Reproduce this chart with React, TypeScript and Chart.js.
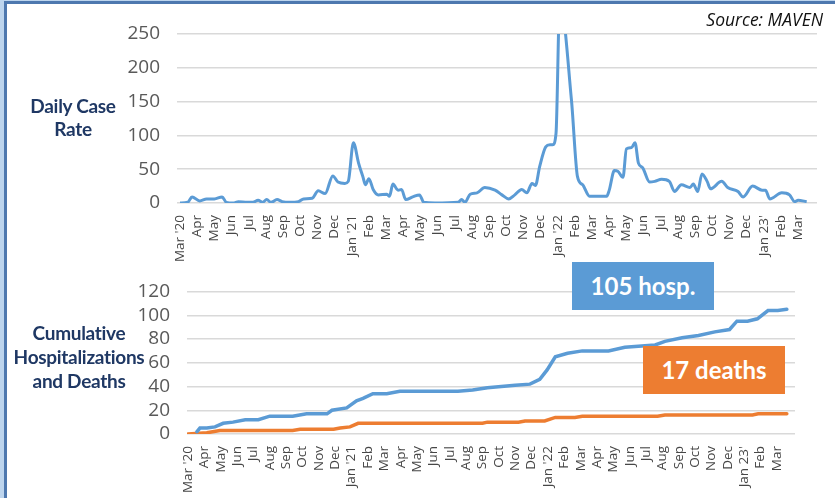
import React, { useEffect, useRef } from "react";
import { Chart, registerables } from "chart.js";

Chart.register(...registerables);

// Month tick labels (index 0 = Mar '20, 36 = Mar '23)
const monthLabels = [
  "Mar '20", "Apr", "May", "Jun", "Jul", "Aug", "Sep", "Oct", "Nov", "Dec",
  "Jan '21", "Feb", "Mar", "Apr", "May", "Jun", "Jul", "Aug", "Sep", "Oct", "Nov", "Dec",
  "Jan '22", "Feb", "Mar", "Apr", "May", "Jun", "Jul", "Aug", "Sep", "Oct", "Nov", "Dec",
  "Jan 23'", "Feb", "Mar",
];

// Y tick values
const caseTicks = [0, 50, 100, 150, 200, 250];
const cumTicks = [0, 20, 40, 60, 80, 100, 120];

// Daily case rate (x in months since Mar '20)
const caseMonths = [
  0, 0.45, 0.7, 1.15, 1.55, 2.0, 2.45, 2.7, 3.1, 3.4,
  3.9, 4.25, 4.55, 4.8, 5.05, 5.3, 5.65, 5.95, 6.4, 6.9,
  7.2, 7.7, 8.05, 8.45, 8.9, 9.2, 9.6, 9.8, 10.1, 10.4,
  10.65, 10.8, 11.0, 11.25, 11.55, 12.05, 12.2, 12.4, 12.7, 12.9,
  13.15, 13.55, 13.95, 14.2, 14.85, 16.2, 16.4, 16.6, 16.9, 17.3,
  17.75, 18.35, 18.75, 19.15, 19.5, 19.9, 20.2, 20.5, 20.7, 20.95,
  21.3, 21.55, 21.7, 21.9, 22.12, 22.8, 23.15, 23.45, 23.85, 24.85,
  25.0, 25.3, 25.5, 25.8, 26.0, 26.3, 26.5, 26.7, 26.95, 27.35,
  27.65, 28.05, 28.5, 28.8, 29.2, 29.7, 29.9, 30.15, 30.4, 30.7,
  30.9, 31.55, 31.9, 32.5, 32.8, 33.35, 33.9, 34.1, 34.35, 35.05,
  35.5, 35.8, 36.0, 36.5,
];
const caseRates = [
  0, 1, 9, 3, 6, 6, 9, 1, 0, 2,
  1, 1, 4, 1, 5, 1, 5, 2, 1, 2,
  6, 7, 18, 14, 40, 31, 29, 32, 89, 59,
  39, 27, 36, 20, 12, 13, 10, 28, 19, 20,
  5, 9, 12, 1, 0, 1, 5, 1, 13, 15,
  23, 19, 12, 6, 12, 20, 15, 29, 26, 54,
  83, 86, 86, 103, 300, 152, 39, 27, 10, 10,
  19, 48, 47, 38, 80, 82, 89, 59, 52, 31,
  32, 35, 32, 17, 27, 23, 28, 17, 43, 32,
  21, 32, 23, 17, 9, 25, 19, 19, 6, 15,
  12, 2, 4, 2,
];

// Cumulative hospitalizations
const hospMonths = [
  0.55, 0.73, 1.15, 1.65, 2.15, 2.75, 3.5, 4.3, 5.0,
  6.4, 7.25, 8.5, 8.8, 9.7, 10.3, 10.7, 11.3, 12.15, 12.95,
  16.5, 17.4, 18.3, 20.0, 20.9, 21.5, 21.95, 22.45, 23.2, 24.1,
  25.7, 26.7, 28.55, 29.15, 30.2, 31.2, 32.2, 33.1, 33.55, 34.2,
  34.8, 35.45, 36.05, 36.6,
];
const hospCounts = [
  2, 5, 5, 6, 9, 10, 12, 12, 15,
  15, 17, 17, 20, 22, 28, 30, 34, 34, 36,
  36, 37, 39, 41, 42, 46, 54, 65, 68, 70,
  70, 73, 75, 78, 81, 83, 86, 88, 95, 95,
  97, 104, 104, 105,
];

// Cumulative deaths
const deathMonths = [
  0, 1.15, 1.95, 6.4, 6.85, 8.9, 9.3, 9.9, 10.4, 18.0, 18.3,
  20.2, 20.6, 21.8, 22.45, 23.65, 24.1, 28.7, 29.15, 34.5, 34.85, 36.6,
];
const deathCounts = [
  0, 1, 3, 3, 4, 4, 5, 6, 9, 9, 10,
  10, 11, 11, 14, 14, 15, 15, 16, 16, 17, 17,
];

const BLUE = "#5B9BD5";
const ORANGE = "#ED7D31";
const GRID = "#D9D9D9";
const TICK = "#595959";
const MONTH = "#474747";
const NAVY = "#1F3864";

function xAxis(min: number, max: number, height: number) {
  return {
    type: "linear" as const,
    min,
    max,
    afterBuildTicks: (s: any) => {
      s.ticks = monthLabels.map((_, i) => ({ value: i }));
    },
    ticks: {
      autoSkip: false,
      maxRotation: 90,
      minRotation: 90,
      padding: 4,
      color: MONTH,
      font: { family: "Open Sans", size: 13.5 },
      callback: (_v: any, i: number) => monthLabels[i],
    },
    grid: { display: false },
    border: { display: false },
    afterFit: (s: any) => {
      s.height = height;
    },
  };
}

function yAxis(max: number, values: number[], width: number) {
  return {
    min: 0,
    max,
    afterBuildTicks: (s: any) => {
      s.ticks = values.map((v) => ({ value: v }));
    },
    ticks: {
      autoSkip: false,
      color: TICK,
      padding: 17,
      font: { family: "Open Sans", size: 19, lineHeight: 1 },
    },
    grid: { color: GRID, lineWidth: 1.5, drawTicks: false },
    border: { display: false },
    afterFit: (s: any) => {
      s.width = width;
    },
  };
}

export default function App() {
  const topRef = useRef<HTMLCanvasElement>(null);
  const botRef = useRef<HTMLCanvasElement>(null);

  useEffect(() => {
    const top = new Chart(topRef.current as HTMLCanvasElement, {
      type: "line",
      data: {
        datasets: [
          {
            data: caseMonths.map((m, i) => ({ x: m, y: caseRates[i] })),
            borderColor: BLUE,
            borderWidth: 3,
            pointRadius: 0,
            cubicInterpolationMode: "monotone",
            fill: false,
          },
        ],
      },
      options: {
        animation: false,
        responsive: false,
        maintainAspectRatio: false,
        layout: { padding: { top: 34, right: 18, left: 0, bottom: 0 } },
        plugins: { legend: { display: false }, tooltip: { enabled: false } },
        scales: {
          x: xAxis(-0.175, 37.1, 67),
          y: yAxis(250, caseTicks, 177),
        },
      } as any,
    });

    const bot = new Chart(botRef.current as HTMLCanvasElement, {
      type: "line",
      data: {
        datasets: [
          {
            data: hospMonths.map((m, i) => ({ x: m, y: hospCounts[i] })),
            borderColor: BLUE,
            borderWidth: 3.5,
            pointRadius: 0,
            borderCapStyle: "round",
            fill: false,
          },
          {
            data: deathMonths.map((m, i) => ({ x: m, y: deathCounts[i] })),
            borderColor: ORANGE,
            borderWidth: 3.5,
            pointRadius: 0,
            borderCapStyle: "round",
            fill: false,
          },
        ],
      },
      options: {
        animation: false,
        responsive: false,
        maintainAspectRatio: false,
        layout: { padding: { top: 12, right: 40, left: 0, bottom: 0 } },
        plugins: { legend: { display: false }, tooltip: { enabled: false } },
        scales: {
          x: xAxis(-0.06, 37.1, 64),
          y: yAxis(120, cumTicks, 187),
        },
      } as any,
    });

    return () => {
      top.destroy();
      bot.destroy();
    };
  }, []);

  const titleStyle: React.CSSProperties = {
    position: "absolute",
    fontFamily: "Lato, 'Open Sans', sans-serif",
    fontWeight: 700,
    fontSize: 19,
    lineHeight: "23px",
    color: NAVY,
    textAlign: "center",
    letterSpacing: "-0.3px",
    whiteSpace: "nowrap",
  };

  const boxStyle: React.CSSProperties = {
    position: "absolute",
    width: 142,
    height: 48,
    color: "#FFFFFF",
    fontFamily: "Lato, 'Open Sans', sans-serif",
    fontWeight: 700,
    fontSize: 24,
    lineHeight: "48px",
    textAlign: "center",
    zIndex: 3,
  };

  return (
    <div
      style={{
        position: "fixed",
        left: 0,
        top: 0,
        width: 835,
        height: 498,
        overflow: "hidden",
        background: "#FFFFFF",
      }}
    >
      {/* frame */}
      <div style={{ position: "absolute", left: 0, top: 0, width: 4, height: 498, background: "#BDD5EE" }} />
      <div style={{ position: "absolute", left: 0, top: 0, width: 835, height: 1, background: "#BDD5EE" }} />
      <div
        style={{
          position: "absolute",
          left: 4,
          top: 1,
          width: 835,
          height: 498,
          borderLeft: "3px solid #4E78AF",
          borderTop: "3px solid #4E78AF",
          zIndex: 4,
          pointerEvents: "none",
        }}
      />

      <canvas
        ref={topRef}
        width={835}
        height={270}
        style={{ position: "absolute", left: 0, top: 0, width: 835, height: 270, display: "block" }}
      />
      <canvas
        ref={botRef}
        width={835}
        height={233}
        style={{ position: "absolute", left: 0, top: 265, width: 835, height: 233, display: "block" }}
      />

      <div
        style={{
          position: "absolute",
          right: 12,
          top: 7,
          fontFamily: "'Open Sans', sans-serif",
          fontStyle: "italic",
          fontWeight: 500,
          fontSize: 17.5,
          color: "#111111",
          zIndex: 3,
        }}
      >
        Source: MAVEN
      </div>

      <div style={{ ...titleStyle, left: 13, width: 120, top: 94 }}>
        Daily Case
        <br />
        Rate
      </div>
      <div style={{ ...titleStyle, left: 9, width: 140, top: 321, lineHeight: "24px", zIndex: 3 }}>
        Cumulative
        <br />
        Hospitalizations
        <br />
        and Deaths
      </div>

      <div style={{ ...boxStyle, left: 572, top: 262, background: BLUE }}>105 hosp.</div>
      <div style={{ ...boxStyle, left: 643, top: 346, background: ORANGE }}>17 deaths</div>
    </div>
  );
}
